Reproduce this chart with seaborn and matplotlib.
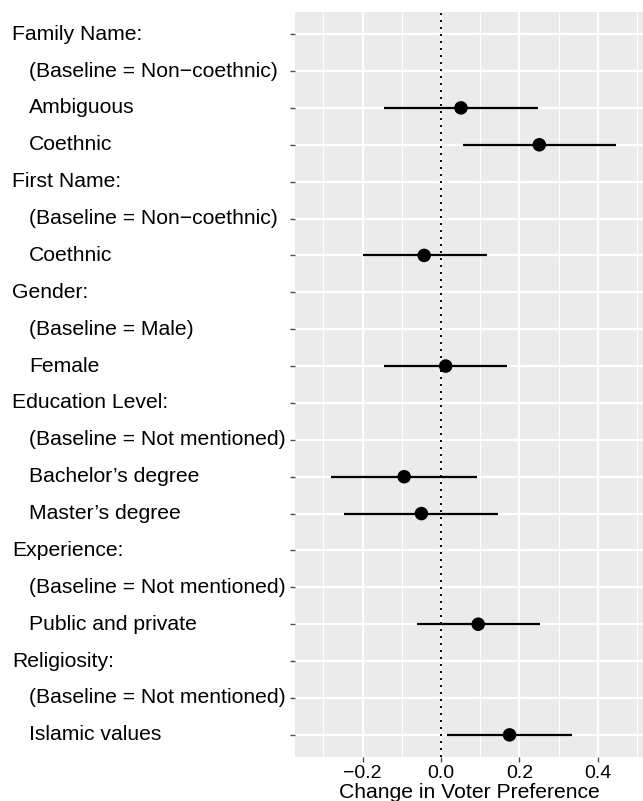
import numpy as np
import pandas as pd
import matplotlib
matplotlib.use("Agg")
import matplotlib.pyplot as plt
import matplotlib.transforms as mtransforms
import seaborn as sns

# Row labels, top to bottom; headers are flush left, levels are indented
labels = [
    "Family Name:", "(Baseline = Non\u2212coethnic)", "Ambiguous", "Coethnic",
    "First Name:", "(Baseline = Non\u2212coethnic)", "Coethnic",
    "Gender:", "(Baseline = Male)", "Female",
    "Education Level:", "(Baseline = Not mentioned)", "Bachelor\u2019s degree", "Master\u2019s degree",
    "Experience:", "(Baseline = Not mentioned)", "Public and private",
    "Religiosity:", "(Baseline = Not mentioned)", "Islamic values",
]
is_header = [
    True, False, False, False,
    True, False, False,
    True, False, False,
    True, False, False, False,
    True, False, False,
    True, False, False,
]
nan = np.nan
estimate = [nan, nan, 0.051, 0.251, nan, nan, -0.043, nan, nan, 0.012,
            nan, nan, -0.094, -0.050, nan, nan, 0.095, nan, nan, 0.175]
ci_low = [nan, nan, -0.145, 0.056, nan, nan, -0.199, nan, nan, -0.145,
          nan, nan, -0.281, -0.247, nan, nan, -0.062, nan, nan, 0.016]
ci_high = [nan, nan, 0.248, 0.447, nan, nan, 0.117, nan, nan, 0.169,
           nan, nan, 0.091, 0.146, nan, nan, 0.253, nan, nan, 0.334]
x_ticks = [-0.2, 0.0, 0.2, 0.4]
x_tick_labels = ["\u22120.2", "0.0", "0.2", "0.4"]

df = pd.DataFrame({
    "label": labels,
    "row": np.arange(len(labels)),
    "estimate": estimate,
    "lo": ci_low,
    "hi": ci_high,
})
est = df.dropna()

sns.set_theme(style="darkgrid", rc={
    "axes.facecolor": "#EBEBEB",
    "grid.color": "white",
})
plt.rcParams["font.family"] = ["Liberation Sans", "DejaVu Sans"]

W, H = 643, 801
fig = plt.figure(figsize=(W / 100, H / 100), dpi=100)
ax = fig.add_axes([295 / W, 1 - 757 / H, (W - 295) / W, (757 - 12) / H])

# confidence intervals and point estimates
ax.hlines(est["row"], est["lo"], est["hi"], color="black", linewidth=1.6, zorder=3)
sns.scatterplot(data=est, x="estimate", y="row", ax=ax, color="black",
                s=95, edgecolor="none", zorder=4, legend=False)

# reference line at zero effect
ax.axvline(0, color="black", linestyle=(0, (1, 2.6)), linewidth=1.4, zorder=2)

ax.set_xlim(-0.3727, 0.5157)
ax.set_ylim(19.6, -0.6)

ax.set_xticks(x_ticks)
ax.set_xticks([-0.3, -0.1, 0.1, 0.3, 0.5], minor=True)
ax.set_xticklabels(x_tick_labels)
ax.set_yticks(df["row"])
ax.set_yticklabels([])
ax.grid(which="major", color="white", linewidth=1.6)
ax.grid(which="minor", axis="x", color="white", linewidth=0.8)
for s in ax.spines.values():
    s.set_visible(False)

ax.tick_params(axis="both", which="major", length=3.5, width=1.0, color="#4D4D4D",
               direction="out", left=True, bottom=True)
ax.tick_params(axis="x", which="major", labelsize=14, labelcolor="black", pad=2)
ax.tick_params(axis="both", which="minor", length=0)

# left-aligned row labels
trans = mtransforms.blended_transform_factory(fig.transFigure, ax.transData)
for r, (lab, hdr) in enumerate(zip(labels, is_header)):
    xpos = 12 / W if hdr else 29 / W
    ax.text(xpos, r, lab, transform=trans, ha="left", va="center",
            fontsize=15.2, color="black", clip_on=False)

ax.set_xlabel("Change in Voter Preference", fontsize=15.2, color="black", labelpad=1)
ax.set_ylabel("")

fig.savefig("out.png", dpi=100)
